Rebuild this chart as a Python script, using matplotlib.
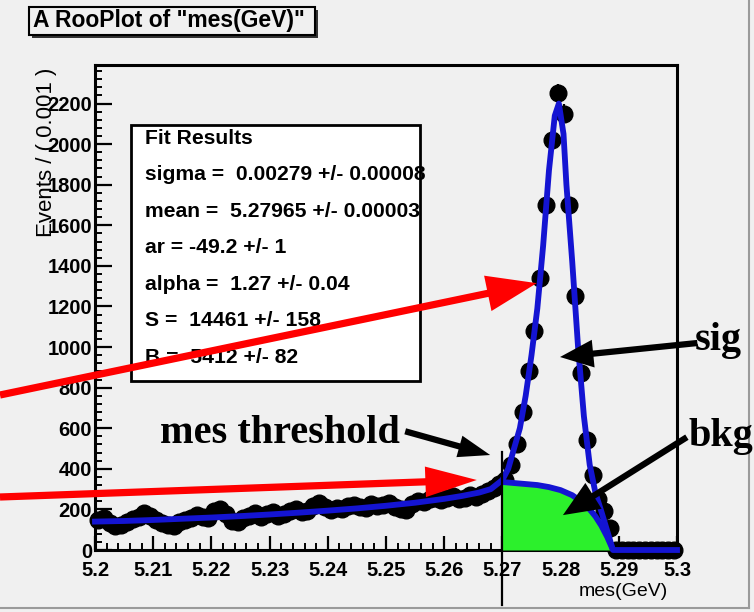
import matplotlib

matplotlib.use("Agg")

import matplotlib.pyplot as plt
from matplotlib.lines import Line2D
from matplotlib.patches import Rectangle
from matplotlib.ticker import MultipleLocator
import numpy as np

X_LO, X_HI, BIN_W = 5.2, 5.3, 0.001

# events per 0.001 GeV bin, 5.2005 ... 5.2995
counts = [
    150, 160, 135, 118, 125, 140, 155, 165, 180, 170,
    150, 135, 125, 120, 140, 150, 160, 172, 165, 158,
    190, 200, 175, 145, 140, 160, 170, 182, 165, 175,
    185, 170, 178, 190, 200, 185, 192, 215, 230, 210,
    195, 205, 200, 215, 222, 210, 205, 225, 215, 220,
    230, 210, 200, 195, 225, 240, 238, 250, 255, 245,
    255, 265, 250, 258, 270, 262, 278, 290, 305, 325,
    345, 420, 520, 680, 880, 1080, 1340, 1700, 2020, 2250,
    2150, 1700, 1250, 870, 540, 370, 250, 190, 110, 0,
    0, 0, 0, 0, 0, 0, 0, 0, 0, 0,
]

# total fit (sig + bkg)
fit_x = [5.200, 5.205, 5.210, 5.215, 5.220, 5.225, 5.230, 5.235, 5.240, 5.245,
         5.250, 5.255, 5.260, 5.263, 5.266, 5.268, 5.270, 5.271, 5.272, 5.273,
         5.274, 5.275, 5.276, 5.277, 5.278, 5.279, 5.2797, 5.2805, 5.281, 5.282,
         5.283, 5.284, 5.285, 5.286, 5.287, 5.288, 5.289, 5.300]
fit_y = [140, 143, 148, 154, 160, 167, 175, 184, 194, 205,
         218, 233, 252, 266, 283, 300, 345, 400, 500, 600,
         760, 960, 1190, 1500, 1870, 2140, 2200, 2050, 1800, 1420,
         1000, 660, 420, 280, 190, 95, 0, 0]

# background component above the mes threshold
bkg_x = [5.270, 5.272, 5.274, 5.276, 5.278, 5.280, 5.282, 5.284, 5.285,
         5.286, 5.287, 5.288, 5.289]
bkg_y = [335, 330, 325, 320, 310, 295, 270, 230, 200, 165, 120, 65, 0]

fit_lines = [
    "Fit Results",
    "sigma =  0.00279 +/- 0.00008",
    "mean =  5.27965 +/- 0.00003",
    "ar = -49.2 +/- 1",
    "alpha =  1.27 +/- 0.04",
    "S =  14461 +/- 158",
    "B =  5412 +/- 82",
]

THRESHOLD = 5.27

BG = "#f0f0f0"
BLUE = "#1414d2"
GREEN = "#2cf02c"
SANS = ["Liberation Sans", "DejaVu Sans"]
SERIF = ["Liberation Serif", "DejaVu Serif"]

W, H = 754, 612
fig = plt.figure(figsize=(W / 100, H / 100), dpi=100, facecolor=BG)


def fx(px):
    return px / W


def fy(py):
    return 1 - py / H


ax = fig.add_axes([fx(95), fy(550), fx(677) - fx(95), fy(65) - fy(550)])
ax.set_zorder(2)
ax.patch.set_visible(False)

centers = X_LO + BIN_W * (np.arange(len(counts)) + 0.5)
counts = np.array(counts, dtype=float)

ax.errorbar(centers, counts, yerr=np.sqrt(counts), fmt="o", color="black",
            ms=12, elinewidth=1.6, capsize=0, zorder=3, clip_on=False)
ax.fill_between(bkg_x, 0, bkg_y, color=GREEN, lw=0, zorder=4)
ax.plot(bkg_x, bkg_y, color=BLUE, lw=4.2, zorder=5, solid_joinstyle="round")
ax.plot(fit_x, fit_y, color=BLUE, lw=4.2, zorder=6, solid_joinstyle="round",
        clip_on=False)

ax.set_xlim(X_LO, X_HI)
ax.set_ylim(0, 2390)
ax.xaxis.set_minor_locator(MultipleLocator(0.002))
ax.yaxis.set_major_locator(MultipleLocator(200))
ax.yaxis.set_minor_locator(MultipleLocator(40))
ax.set_xticks(np.round(np.arange(5.2, 5.3001, 0.01), 2))
ax.set_xticklabels(["5.2", "5.21", "5.22", "5.23", "5.24", "5.25", "5.26",
                    "5.27", "5.28", "5.29", "5.3"])
ax.tick_params(axis="both", which="major", direction="in", width=1.6,
               labelsize=14.5)
ax.tick_params(axis="y", which="major", length=12, pad=2)
ax.tick_params(axis="x", which="major", length=10, pad=8)
ax.tick_params(axis="both", which="minor", direction="in", width=1.4, length=5)
ax.tick_params(top=False, right=False, which="both")
for lab in ax.get_xticklabels() + ax.get_yticklabels():
    lab.set_family(SANS)
    lab.set_fontweight("bold")
for sp in ax.spines.values():
    sp.set_linewidth(2.2)

# mes threshold marker line running through the axis
ax.axvline(THRESHOLD, ymin=-0.113, ymax=0.202, color="black", lw=1.6,
           clip_on=False, zorder=7)

# axis titles
fig.text(fx(668), fy(592), "mes(GeV)", ha="right", va="center",
         fontsize=14, family=SANS)
fig.text(fx(47), fy(68), "Events / ( 0.001 )", rotation=90, ha="center",
         va="top", fontsize=16, family=SANS, zorder=3)

# title pave
fig.add_artist(Rectangle((fx(32), fy(38)), fx(286), fy(0) - fy(28),
                         transform=fig.transFigure, facecolor="#333333",
                         edgecolor="none"))
title_box = Rectangle((fx(29), fy(35)), fx(286), fy(0) - fy(28),
                      transform=fig.transFigure, facecolor=BG,
                      edgecolor="black", lw=1.5)
fig.add_artist(title_box)
title = fig.text(fx(33), fy(21), 'A RooPlot of "mes(GeV)"', ha="left",
                 va="center", fontsize=16.5, fontweight="bold", family=SANS)
title.set_clip_path(title_box)

# fit results pave (under the axes so the arrows cross it)
fig.add_artist(Rectangle((fx(131), fy(381)), fx(289), fy(0) - fy(256),
                         transform=fig.transFigure, facecolor="white",
                         edgecolor="black", lw=2.0, zorder=1))
for i, line in enumerate(fit_lines):
    fig.text(fx(145), fy(138 + 36.6 * i), line, ha="left", va="center",
             fontsize=15.2, fontweight="bold", family=SANS, zorder=1.5)

# hand-drawn labels and arrows
ax.text(5.2524, 576, "mes threshold", ha="right", va="center", fontsize=29,
        fontweight="bold", family=SERIF, zorder=10)
ax.text(5.3031, 1034, "sig", ha="left", va="center", fontsize=29,
        fontweight="bold", family=SERIF, clip_on=False, zorder=10)
ax.text(5.3019, 557, "bkg", ha="left", va="center", fontsize=29,
        fontweight="bold", family=SERIF, clip_on=False, zorder=10)


def arrow(tip, start, color, head_l, head_w, tail_w, start_coords="data"):
    ax.annotate("", xy=tip, xycoords="data", xytext=start,
                textcoords=start_coords, annotation_clip=False,
                arrowprops=dict(arrowstyle=f"simple,head_length={head_l},"
                                f"head_width={head_w},tail_width={tail_w}",
                                color=color, lw=0, shrinkA=0, shrinkB=0,
                                mutation_scale=10),
                zorder=11)


arrow((5.2679, 468), (5.2533, 585), "black", 2.3, 1.6, 0.45)
arrow((5.2799, 951), (5.3035, 1020), "black", 2.4, 2.0, 0.45)
arrow((5.2804, 172), (5.3017, 556), "black", 2.6, 2.2, 0.45)
arrow((5.2759, 1315), (0.0, fy(395)), "red", 3.6, 2.6, 0.52, "figure fraction")
arrow((5.2656, 345), (0.0, fy(497)), "red", 3.7, 2.2, 0.52, "figure fraction")

# canvas bevel
fig.add_artist(Line2D([fx(749), fx(749)], [fy(608), fy(0)],
                      transform=fig.transFigure, color="#9a9a9a", lw=1.5,
                      zorder=0.5))
fig.add_artist(Line2D([fx(0), fx(749)], [fy(608), fy(608)],
                      transform=fig.transFigure, color="#9a9a9a", lw=1.5,
                      zorder=0.5))

fig.savefig("out.png", dpi=100, facecolor=BG)
